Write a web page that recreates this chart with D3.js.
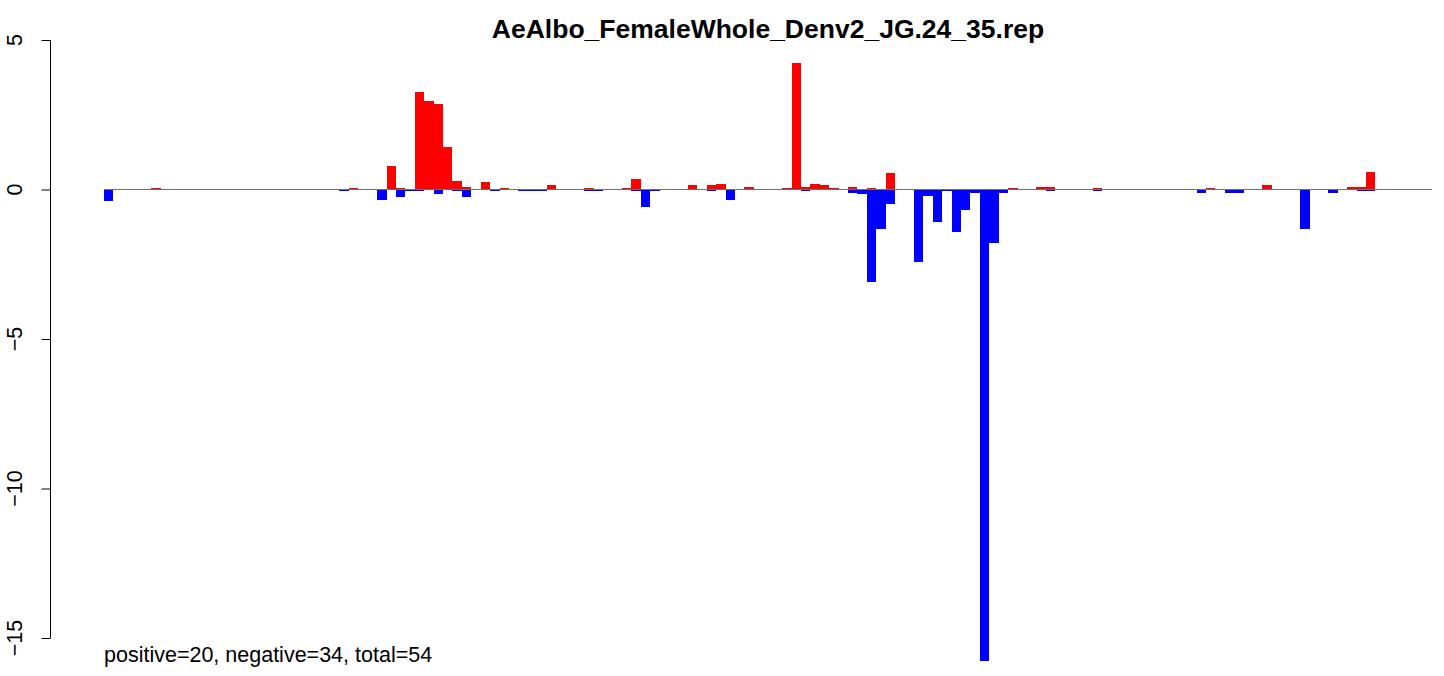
<!DOCTYPE html>
<html>
<head>
<meta charset="utf-8">
<script src="https://cdn.jsdelivr.net/npm/d3@7"></script>
<style>
  html, body { margin: 0; padding: 0; background: #fff; }
  svg text { font-family: "Liberation Sans", Arial, sans-serif; }
</style>
</head>
<body>
<svg id="chart" width="1444" height="676"></svg>
<script>
// ---- data ----
const chartTitle = "AeAlbo_FemaleWhole_Denv2_JG.24_35.rep";
const footnote = "positive=20, negative=34, total=54";
const yTicks = [-15, -10, -5, 0, 5];

// positive (red) values per position, 141 positions
const positiveValues = [
  0, 0, 0, 0, 0, 0.04, 0, 0, 0, 0,
  0, 0, 0, 0, 0, 0, 0, 0, 0, 0,
  0, 0, 0, 0, 0, 0, 0.04, 0, 0, 0,
  0.78, 0.045, 0, 3.26, 2.96, 2.86, 1.42, 0.28, 0.08, 0,
  0.25, 0, 0.05, 0, 0, 0, 0, 0.15, 0, 0,
  0, 0.05, 0, 0, 0, 0.05, 0.35, 0, 0, 0,
  0, 0, 0.15, 0, 0.15, 0.18, 0, 0, 0.08, 0,
  0, 0, 0.05, 4.23, 0.08, 0.18, 0.15, 0.04, 0, 0.08,
  0, 0.04, 0, 0.55, 0, 0, 0, 0, 0, 0,
  0, 0, 0, 0, 0, 0, 0.05, 0, 0, 0.08,
  0.08, 0, 0, 0, 0, 0.05, 0, 0, 0, 0,
  0, 0, 0, 0, 0, 0, 0, 0.05, 0, 0,
  0, 0, 0, 0.15, 0, 0, 0, 0, 0, 0,
  0, 0, 0.08, 0.08, 0.58, 0, 0, 0, 0, 0,
  0
];

// negative (blue) values per position, 141 positions
const negativeValues = [
  -0.38, 0, 0, 0, 0, 0, 0, 0, 0, 0,
  0, 0, 0, 0, 0, 0, 0, 0, 0, 0,
  0, 0, 0, 0, 0, -0.05, 0, 0, 0, -0.36,
  0, -0.26, -0.05, -0.05, 0, -0.16, 0, -0.05, -0.26, 0,
  0, -0.05, 0, 0, -0.05, -0.05, -0.05, 0, 0, 0,
  0, -0.05, -0.05, 0, 0, 0, -0.05, -0.59, -0.05, 0,
  0, 0, 0, 0, -0.05, 0, -0.36, 0, 0, 0,
  0, 0, 0, 0, -0.05, 0, 0, 0, 0, -0.12,
  -0.16, -3.09, -1.32, -0.49, 0, 0, -2.42, -0.22, -1.09, -0.06,
  -1.42, -0.69, -0.12, -15.76, -1.79, -0.12, 0, 0, 0, 0,
  -0.05, 0, 0, 0, 0, -0.05, 0, 0, 0, 0,
  0, 0, 0, 0, 0, 0, -0.12, 0, 0, -0.12,
  -0.12, 0, 0, 0, 0, 0, 0, -1.33, 0, 0,
  -0.12, 0, 0, -0.05, -0.05, 0, 0, 0, 0, 0,
  0
];

// ---- drawing ----
const svg = d3.select("#chart");
const indices = d3.range(positiveValues.length);

const x = d3.scaleBand().domain(indices).range([104, 1432]).padding(0);
const y = d3.scaleLinear().domain([-15, 5]).range([638, 40]);

// red bars
svg.append("g").attr("shape-rendering", "crispEdges").selectAll("rect")
  .data(indices.filter(i => positiveValues[i] > 0))
  .join("rect")
  .attr("x", i => x(i))
  .attr("width", x.bandwidth())
  .attr("y", i => y(positiveValues[i]))
  .attr("height", i => y(0) - y(positiveValues[i]))
  .attr("fill", "#ff0000");

// blue bars
svg.append("g").attr("shape-rendering", "crispEdges").selectAll("rect")
  .data(indices.filter(i => negativeValues[i] < 0))
  .join("rect")
  .attr("x", i => x(i))
  .attr("width", x.bandwidth())
  .attr("y", y(0))
  .attr("height", i => y(negativeValues[i]) - y(0))
  .attr("fill", "#0000ff");

// baseline
svg.append("line")
  .attr("x1", x.range()[0]).attr("x2", x.range()[1])
  .attr("y1", y(0)).attr("y2", y(0))
  .attr("stroke", "#707070").attr("stroke-width", 1.2);

// y axis
const yAxis = d3.axisLeft(y).tickValues(yTicks).tickSize(9).tickSizeOuter(0).tickFormat("");
const gy = svg.append("g").attr("transform", "translate(50.5,0)").call(yAxis);
gy.select(".domain").attr("stroke", "#000").attr("d", `M0,${y(-15)}V${y(5)}`);
gy.selectAll(".tick line").attr("stroke", "#000");

svg.append("g").selectAll("text")
  .data(yTicks)
  .join("text")
  .attr("transform", d => `translate(22,${y(d)}) rotate(-90)`)
  .attr("text-anchor", "middle")
  .attr("font-size", 21.5)
  .attr("fill", "#000")
  .text(d => d < 0 ? "\u2212" + Math.abs(d) : String(d));

// title
svg.append("text")
  .attr("x", 768).attr("y", 38)
  .attr("text-anchor", "middle")
  .attr("font-size", 26.5)
  .attr("font-weight", "bold")
  .attr("fill", "#000")
  .text(chartTitle);

// footnote
svg.append("text")
  .attr("x", 104).attr("y", 662)
  .attr("font-size", 21.5)
  .attr("fill", "#000")
  .text(footnote);
</script>
</body>
</html>
